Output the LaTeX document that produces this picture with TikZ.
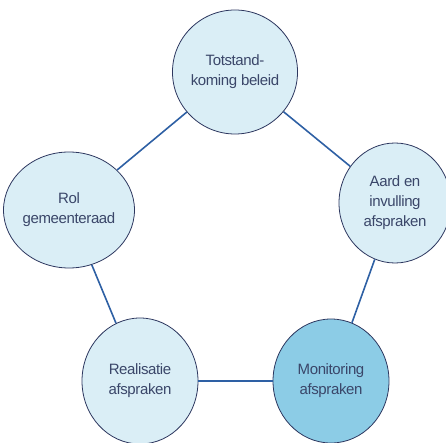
\documentclass[tikz,border=0pt]{standalone}
\usepackage{fontspec}
\setmainfont{Liberation Sans}[LetterSpace=-2.5]
\usepackage{tikz}
\usetikzlibrary{shapes.geometric}

\definecolor{lichtblauw}{RGB}{218,238,246}
\definecolor{donkerblauw}{RGB}{140,204,230}
\definecolor{randkleur}{RGB}{45,55,95}
\definecolor{lijnkleur}{RGB}{46,96,164}
\definecolor{tekstkleur}{RGB}{58,70,105}

\tikzset{
  fase/.style={ellipse,draw=randkleur,line width=0.8pt,fill=lichtblauw,text=tekstkleur,
    align=center,inner sep=0pt,minimum width=118pt,minimum height=124pt,
    font=\fontsize{15}{20}\selectfont},
  verbinding/.style={draw=lijnkleur,line width=1.6pt}
}

\begin{document}
\begin{tikzpicture}[x=1pt,y=-1pt]
                    \useasboundingbox (0,0) rectangle (446,443);

                    \node[fase] (beleid) at (235,72) {Totstand-\\koming beleid};
                    \node[fase,minimum width=118pt,minimum height=116pt] (rol) at (69,210) {Rol\\gemeenteraad};
                    \node[fase,minimum width=112pt,minimum height=120pt] (aard) at (395,203) {Aard en\\invulling\\afspraken};
                    \node[fase,fill=donkerblauw,minimum width=116pt] (monitoring) at (331,381) {Monitoring\\afspraken};
                    \node[fase,minimum width=116pt,minimum height=126pt] (realisatie) at (140,381) {Realisatie\\afspraken};

                    \draw[verbinding] (beleid) -- (rol);
                    \draw[verbinding] (beleid) -- (aard);
                    \draw[verbinding] (aard) -- (monitoring);
                    \draw[verbinding] (monitoring.west) -- (realisatie.east);
                    \draw[verbinding] (realisatie) -- (rol);
                \end{tikzpicture}
\end{document}
